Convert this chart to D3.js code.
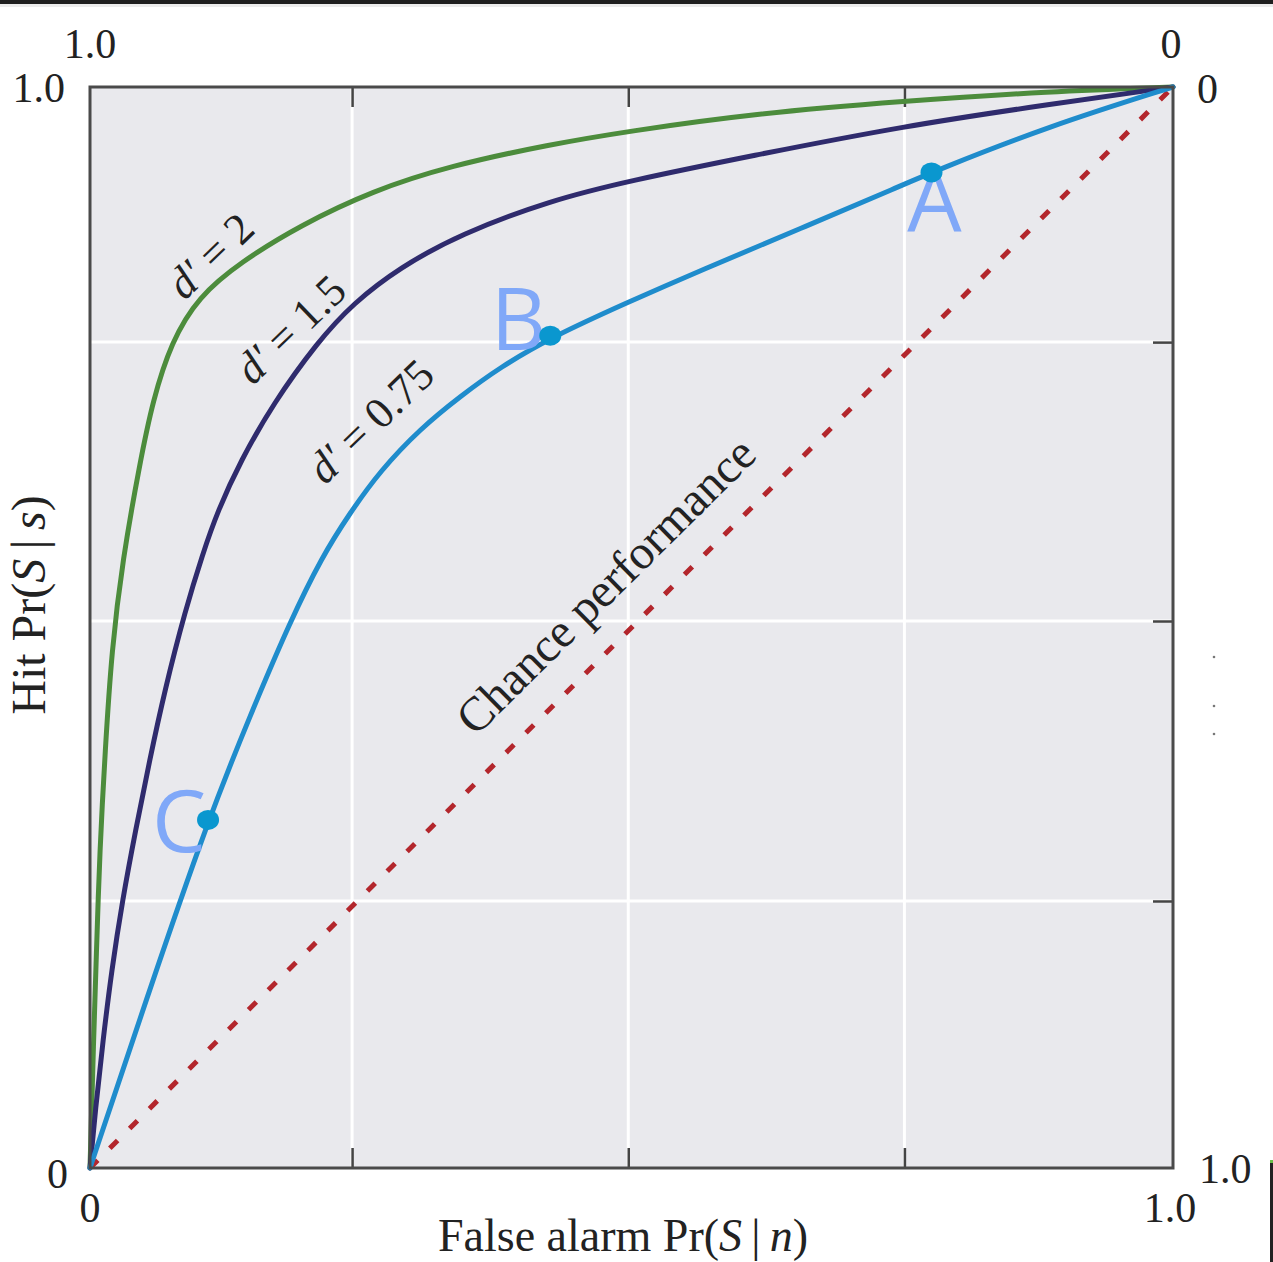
<!DOCTYPE html>
<html><head><meta charset="utf-8">
<script src="https://cdn.jsdelivr.net/npm/d3@7"></script>
<style>body{margin:0;background:#fff;} svg{display:block;}</style>
</head><body>
<script>
// ---- data (false alarm F, hit H) ----
const curveNames = ["d′ = 2", "d′ = 1.5", "d′ = 0.75"];
const curveD2 = [[0,0],[0.001,0.035],[0.003,0.109],[0.006,0.201],[0.009,0.294],[0.014,0.386],[0.020,0.479],[0.030,0.562],[0.046,0.652],[0.058,0.710],[0.075,0.764],[0.100,0.806],[0.139,0.838],[0.194,0.872],[0.261,0.904],[0.332,0.927],[0.425,0.947],[0.497,0.959],[0.609,0.975],[0.752,0.987],[0.886,0.996],[1,1]];
const curveD15 = [[0,0],[0.005,0.054],[0.012,0.118],[0.020,0.183],[0.030,0.248],[0.042,0.312],[0.055,0.377],[0.069,0.442],[0.088,0.516],[0.104,0.568],[0.118,0.608],[0.139,0.654],[0.169,0.707],[0.210,0.764],[0.243,0.800],[0.286,0.833],[0.342,0.864],[0.425,0.895],[0.497,0.913],[0.609,0.936],[0.752,0.964],[0.886,0.984],[1,1]];
const curveD075 = [[0,0],[0.055,0.165],[0.109,0.322],[0.148,0.419],[0.185,0.506],[0.214,0.565],[0.240,0.606],[0.268,0.645],[0.305,0.684],[0.342,0.714],[0.379,0.741],[0.425,0.768],[0.497,0.801],[0.563,0.830],[0.656,0.869],[0.752,0.910],[0.777,0.921],[0.886,0.964],[1,1]];
const chanceLine = [[0,0],[1,1]];
const pointNames = ["A", "B", "C"];
const pointValues = [[0.777,0.921],[0.425,0.770],[0.109,0.322]];
const curveLabelPos = [[0.111,0.844],[0.185,0.776],[0.259,0.691]];
const chanceLabel = "Chance performance";
const chanceLabelPos = [0.476,0.539];
const xTickValues = [0.242, 0.497, 0.752];
const yTickValues = [0.247, 0.506, 0.764];

const W = 1273, H = 1262;
const svg = d3.select("body").append("svg").attr("width", W).attr("height", H);
const x = d3.scaleLinear().domain([0,1]).range([90,1173]);
const y = d3.scaleLinear().domain([0,1]).range([1168,87]);
const serif = "'Liberation Serif', 'Times New Roman', serif";

// top dark strip
svg.append("rect").attr("x",0).attr("y",0).attr("width",W).attr("height",4).attr("fill","#1f1f1f");
svg.append("rect").attr("x",0).attr("y",4).attr("width",W).attr("height",3).attr("fill","#ececec");

// plot background
svg.append("rect").attr("x",x(0)).attr("y",y(1)).attr("width",x(1)-x(0)).attr("height",y(0)-y(1)).attr("fill","#e9e9ed");

// grid
const g = svg.append("g");
g.selectAll(".vg").data(xTickValues).join("line")
  .attr("x1",d=>x(d)).attr("x2",d=>x(d)).attr("y1",y(0)).attr("y2",y(1))
  .attr("stroke","#fff").attr("stroke-width",3);
g.selectAll(".hg").data(yTickValues).join("line")
  .attr("y1",d=>y(d)).attr("y2",d=>y(d)).attr("x1",x(0)).attr("x2",x(1))
  .attr("stroke","#fff").attr("stroke-width",3);

// ticks via axes (inward)
const tickLen = 20;
svg.append("g").attr("transform",`translate(0,${y(1)})`)
  .call(d3.axisBottom(x).tickValues(xTickValues).tickSize(tickLen).tickFormat(""))
  .call(a=>a.select(".domain").remove())
  .call(a=>a.selectAll("line").attr("stroke","#444").attr("stroke-width",2.5));
svg.append("g").attr("transform",`translate(0,${y(0)})`)
  .call(d3.axisTop(x).tickValues(xTickValues).tickSize(tickLen).tickFormat(""))
  .call(a=>a.select(".domain").remove())
  .call(a=>a.selectAll("line").attr("stroke","#444").attr("stroke-width",2.5));
svg.append("g").attr("transform",`translate(${x(1)},0)`)
  .call(d3.axisLeft(y).tickValues(yTickValues).tickSize(tickLen).tickFormat(""))
  .call(a=>a.select(".domain").remove())
  .call(a=>a.selectAll("line").attr("stroke","#444").attr("stroke-width",2.5));

// chance line
const line = d3.line().x(d=>x(d[0])).y(d=>y(d[1]));
svg.append("path").datum(chanceLine).attr("d",line).attr("fill","none")
  .attr("stroke","#b3262c").attr("stroke-width",5).attr("stroke-dasharray","11,17");

// curves
const smooth = d3.line().x(d=>x(d[0])).y(d=>y(d[1])).curve(d3.curveBasis);
const curves = [curveD2, curveD15, curveD075];
const colors = ["#4c8c3c", "#2f2b6d", "#1f8ccc"];
curves.forEach((c,i)=>{
  svg.append("path").datum(c).attr("d",smooth).attr("fill","none")
    .attr("stroke",colors[i]).attr("stroke-width",5).attr("stroke-linecap","round");
});

// border
svg.append("rect").attr("x",x(0)).attr("y",y(1)).attr("width",x(1)-x(0)).attr("height",y(0)-y(1))
  .attr("fill","none").attr("stroke","#4a4a4a").attr("stroke-width",3);

// curve labels
curveNames.forEach((t,i)=>{
  const p = curveLabelPos[i];
  const txt = svg.append("text").attr("transform",`translate(${x(p[0])},${y(p[1])}) rotate(-44)`)
    .attr("text-anchor","middle").attr("dominant-baseline","central")
    .attr("font-family",serif).attr("font-size",44).attr("fill","#222");
  const parts = t.split(" ");
  txt.append("tspan").attr("font-style","italic").text(parts[0]);
  txt.append("tspan").text(" " + parts.slice(1).join(" "));
});
svg.append("text").attr("transform",`translate(${x(chanceLabelPos[0])},${y(chanceLabelPos[1])}) rotate(-44.7)`)
  .attr("text-anchor","middle").attr("dominant-baseline","central")
  .attr("font-family",serif).attr("font-size",48).attr("fill","#222").text(chanceLabel);

// points
const labelOffsets = [[3,60,"middle"],[-4,14,"end"],[-2,32,"end"]];
pointValues.forEach((p,i)=>{
  const o = labelOffsets[i];
  svg.append("text").attr("x",x(p[0])+o[0]).attr("y",y(p[1])+o[1]).attr("text-anchor",o[2])
    .attr("font-family","'Open Sans', sans-serif").attr("font-size",86).attr("fill","#80a8f8").text(pointNames[i]);
});
pointValues.forEach(p=>{
  svg.append("ellipse").attr("cx",x(p[0])).attr("cy",y(p[1])).attr("rx",11).attr("ry",10).attr("fill","#0a97cf");
});

// tick labels (duplicated as in reference)
const tl = (t,xx,yy,anchor)=>svg.append("text").attr("x",xx).attr("y",yy).attr("text-anchor",anchor)
  .attr("font-family",serif).attr("font-size",42).attr("fill","#222").text(t);
tl("1.0", x(0), 58, "middle");
tl("1.0", x(0)-25, 102, "end");
tl("0", x(1)-2, 58, "middle");
tl("0", x(1)+24, 103, "start");
tl("0", x(0)-22, 1188, "end");
tl("0", x(0), 1222, "middle");
tl("1.0", x(1)+26, 1183, "start");
tl("1.0", x(1)-3, 1222, "middle");

// axis titles
const xt = svg.append("text").attr("x",623).attr("y",1251).attr("text-anchor","middle")
  .attr("font-family",serif).attr("font-size",46).attr("fill","#222");
xt.append("tspan").text("False alarm Pr(");
xt.append("tspan").attr("font-style","italic").text("S");
xt.append("tspan").text("\u2009|\u2009");
xt.append("tspan").attr("font-style","italic").text("n");
xt.append("tspan").text(")");
const yt = svg.append("text").attr("transform","translate(45,605) rotate(-90)").attr("text-anchor","middle")
  .attr("font-family",serif).attr("font-size",48).attr("fill","#222");
yt.append("tspan").text("Hit Pr(");
yt.append("tspan").attr("font-style","italic").text("S");
yt.append("tspan").text("\u2009|\u2009");
yt.append("tspan").attr("font-style","italic").text("s");
yt.append("tspan").text(")");

// stray marks at right edge
svg.append("rect").attr("x",1270).attr("y",1160).attr("width",3).attr("height",H-1160).attr("fill","#222");
svg.append("rect").attr("x",1270).attr("y",1160).attr("width",3).attr("height",3).attr("fill","#6ac04a");
[657,706,734].forEach(v=>svg.append("circle").attr("cx",1214).attr("cy",v).attr("r",1.3).attr("fill","#777"));
</script>
</body></html>
